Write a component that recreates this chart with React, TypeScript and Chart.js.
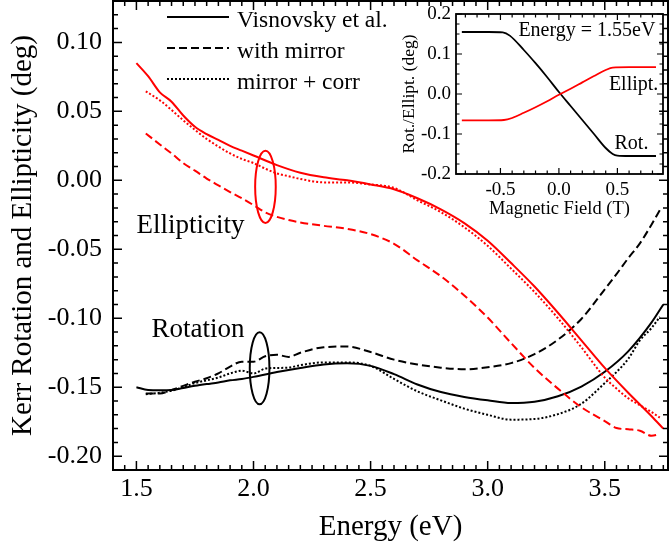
import React, { useEffect, useRef } from 'react';
import { Chart, registerables } from 'chart.js';

Chart.register(...registerables);

const FONT = "'Liberation Serif', 'Times New Roman', 'DejaVu Serif', serif";
const RED = '#ff0000';
const BLACK = '#000000';

// ---------- main chart tick labels ----------
const xTickLabels = ['1.5', '2.0', '2.5', '3.0', '3.5'];
const yTickLabels = ['-0.20', '-0.15', '-0.10', '-0.05', '0.00', '0.05', '0.10'];

// ---------- series labels ----------
const seriesLabels = ['Visnovsky et al.', 'with mirror', 'mirror + corr'];

// ---------- Visnovsky et al. (solid) ----------
const energyVisnovsky = [1.50, 1.55, 1.60, 1.65, 1.70, 1.75, 1.80, 1.85, 1.90, 1.95, 2.00, 2.10, 2.20, 2.30, 2.40, 2.50, 2.60, 2.70, 2.80, 2.90, 3.00, 3.10, 3.20, 3.30, 3.40, 3.50, 3.60, 3.70, 3.75];
const ellipVisnovsky = [0.085, 0.0755, 0.0638, 0.057, 0.047, 0.0388, 0.0335, 0.0293, 0.025, 0.0215, 0.018, 0.011, 0.0055, 0.0022, 0.0, -0.003, -0.0065, -0.013, -0.021, -0.031, -0.0438, -0.060, -0.077, -0.096, -0.116, -0.136, -0.154, -0.171, -0.180];
const rotVisnovsky = [-0.150, -0.152, -0.1522, -0.152, -0.1505, -0.149, -0.1477, -0.1465, -0.145, -0.144, -0.1425, -0.139, -0.136, -0.1335, -0.1327, -0.1345, -0.1405, -0.148, -0.1535, -0.157, -0.1595, -0.1615, -0.1605, -0.1565, -0.1495, -0.1388, -0.124, -0.103, -0.090];

// ---------- with mirror (dashed) & mirror + corr (dotted) ----------
const energyMirror = [1.54, 1.60, 1.65, 1.70, 1.75, 1.80, 1.85, 1.90, 1.95, 2.00, 2.05, 2.10, 2.15, 2.20, 2.30, 2.40, 2.50, 2.60, 2.70, 2.80, 2.90, 3.00, 3.10, 3.20, 3.30, 3.40, 3.50, 3.55, 3.60, 3.65, 3.70, 3.735];
const ellipMirror = [0.034, 0.026, 0.0195, 0.0125, 0.007, 0.0013, -0.0037, -0.0085, -0.013, -0.018, -0.0232, -0.0265, -0.0288, -0.0305, -0.033, -0.0352, -0.039, -0.046, -0.058, -0.0695, -0.0835, -0.0995, -0.118, -0.136, -0.151, -0.1645, -0.1745, -0.1795, -0.1805, -0.1815, -0.1852, -0.184];
const rotMirror = [-0.1545, -0.1545, -0.152, -0.149, -0.146, -0.1435, -0.140, -0.135, -0.1315, -0.1315, -0.1275, -0.1265, -0.128, -0.125, -0.121, -0.1205, -0.1245, -0.130, -0.1335, -0.1358, -0.137, -0.1355, -0.1325, -0.126, -0.1155, -0.1005, -0.079, -0.068, -0.0565, -0.0457, -0.032, -0.0217];
const ellipCorr = [0.0645, 0.058, 0.051, 0.0435, 0.0365, 0.030, 0.0245, 0.0195, 0.0155, 0.0125, 0.0085, 0.005, 0.003, 0.001, -0.0015, -0.0015, -0.003, -0.0055, -0.0145, -0.023, -0.034, -0.0475, -0.064, -0.081, -0.100, -0.121, -0.143, -0.151, -0.158, -0.163, -0.168, -0.172];
const rotCorr = [-0.155, -0.154, -0.1525, -0.150, -0.147, -0.145, -0.143, -0.140, -0.138, -0.140, -0.1365, -0.136, -0.1358, -0.134, -0.132, -0.132, -0.1345, -0.144, -0.153, -0.1595, -0.1655, -0.170, -0.1735, -0.173, -0.1695, -0.162, -0.147, -0.139, -0.1295, -0.116, -0.107, -0.099];

// ---------- inset: hysteresis at 1.55 eV ----------
const insetXTickLabels = ['-0.5', '0.0', '0.5'];
const insetYTickLabels = ['-0.2', '-0.1', '0.0', '0.1', '0.2'];
const fieldRot = [-0.83, -0.6, -0.48, -0.42, -0.3, -0.2, -0.1, 0.0, 0.1, 0.2, 0.3, 0.4, 0.46, 0.5, 0.6, 0.83];
const insetRot = [0.155, 0.155, 0.154, 0.146, 0.11, 0.077, 0.042, 0.005, -0.03, -0.065, -0.1, -0.135, -0.150, -0.154, -0.155, -0.155];
const fieldEllip = [-0.83, -0.6, -0.47, -0.4, -0.3, -0.2, -0.1, 0.0, 0.1, 0.2, 0.3, 0.4, 0.46, 0.6, 0.83];
const insetEllip = [-0.066, -0.066, -0.065, -0.06, -0.047, -0.033, -0.018, -0.002, 0.013, 0.029, 0.045, 0.06, 0.066, 0.067, 0.067];

const pts = (xs: number[], ys: number[]) => xs.map((x, i) => ({ x, y: ys[i] }));

// frame + inward ticks on all four sides
const frameTicksPlugin = {
  id: 'frameTicks',
  afterDraw(chart: any, _args: any, opts: any) {
    if (!opts || !opts.enabled) return;
    const { ctx, chartArea: a } = chart;
    const xs = chart.scales.x;
    const ys = chart.scales.y;
    ctx.save();
    ctx.strokeStyle = '#000';
    ctx.lineWidth = opts.tickWidth;
    ctx.beginPath();
    const each = (min: number, max: number, step: number, major: number, fn: (v: number, isMajor: boolean) => void) => {
      const s = Math.ceil(min / step - 1e-6);
      const e = Math.floor(max / step + 1e-6);
      for (let k = s; k <= e; k++) {
        const v = k * step;
        const r = v / major;
        fn(v, Math.abs(r - Math.round(r)) < 1e-6);
      }
    };
    each(xs.min, xs.max, opts.xMinor, opts.xMajor, (v, m) => {
      const len = m ? opts.majorLen : opts.minorLen;
      const px = xs.getPixelForValue(v);
      ctx.moveTo(px, a.bottom); ctx.lineTo(px, a.bottom - len);
      ctx.moveTo(px, a.top); ctx.lineTo(px, a.top + len);
    });
    each(ys.min, ys.max, opts.yMinor, opts.yMajor, (v, m) => {
      const len = m ? opts.majorLen : opts.minorLen;
      const py = ys.getPixelForValue(v);
      ctx.moveTo(a.left, py); ctx.lineTo(a.left + len, py);
      ctx.moveTo(a.right, py); ctx.lineTo(a.right - len, py);
    });
    ctx.stroke();
    ctx.lineWidth = opts.frameWidth;
    ctx.strokeRect(a.left, a.top, a.right - a.left, a.bottom - a.top);
    ctx.restore();
  },
};

// text + ellipse annotations in data coordinates, plus an in-plot legend
const annotatePlugin = {
  id: 'annotate',
  afterDatasetsDraw(chart: any, _args: any, opts: any) {
    if (!opts) return;
    const { ctx, chartArea: a } = chart;
    const xs = chart.scales.x;
    const ys = chart.scales.y;
    ctx.save();
    (opts.ellipses || []).forEach((el: any) => {
      const cx = xs.getPixelForValue(el.x);
      const cy = ys.getPixelForValue(el.y);
      const rx = Math.abs(xs.getPixelForValue(el.x + el.rx) - cx);
      const ry = Math.abs(ys.getPixelForValue(el.y + el.ry) - cy);
      ctx.beginPath();
      ctx.strokeStyle = el.color;
      ctx.lineWidth = el.width;
      ctx.setLineDash([]);
      ctx.ellipse(cx, cy, rx, ry, 0, 0, Math.PI * 2);
      ctx.stroke();
    });
    (opts.texts || []).forEach((t: any) => {
      ctx.font = `${t.size}px ${FONT}`;
      ctx.fillStyle = t.color || '#000';
      ctx.textAlign = t.align || 'left';
      ctx.textBaseline = 'alphabetic';
      ctx.fillText(t.text, xs.getPixelForValue(t.x), ys.getPixelForValue(t.y));
    });
    const lg = opts.legend;
    if (lg) {
      lg.datasets.forEach((di: number, row: number) => {
        const ds = chart.data.datasets[di];
        const y = a.top + lg.top + row * lg.rowGap;
        const x0 = a.left + lg.left;
        ctx.beginPath();
        ctx.strokeStyle = ds.borderColor;
        ctx.lineWidth = ds.borderWidth;
        ctx.setLineDash(ds.borderDash || []);
        ctx.moveTo(x0, y);
        ctx.lineTo(x0 + lg.lineLen, y);
        ctx.stroke();
        ctx.setLineDash([]);
        ctx.font = `${lg.size}px ${FONT}`;
        ctx.fillStyle = '#000';
        ctx.textAlign = 'left';
        ctx.textBaseline = 'alphabetic';
        ctx.fillText(ds.label, x0 + lg.lineLen + lg.gap, y + lg.baselineOffset);
      });
    }
    ctx.restore();
  },
};

const noPadX = (h: number) => (s: any) => { s.height = h; s.paddingLeft = 0; s.paddingRight = 0; };
const noPadY = (w: number) => (s: any) => { s.width = w; s.paddingTop = 0; s.paddingBottom = 0; };

const DASH = [8, 4];
const DOT = [2, 2];

function MainChart() {
  const ref = useRef<HTMLCanvasElement | null>(null);
  useEffect(() => {
    const mk = (label: string, xs: number[], ys: number[], color: string, dash: number[], w: number) => ({
      label,
      data: pts(xs, ys),
      borderColor: color,
      backgroundColor: color,
      borderWidth: w,
      borderDash: dash,
      pointRadius: 0,
      fill: false,
      cubicInterpolationMode: 'monotone' as const,
    });
    const chart = new Chart(ref.current as HTMLCanvasElement, {
      type: 'line',
      data: {
        datasets: [
          mk(seriesLabels[0] + ' (ellipticity)', energyVisnovsky, ellipVisnovsky, RED, [], 2),
          mk(seriesLabels[1] + ' (ellipticity)', energyMirror, ellipMirror, RED, DASH, 2),
          mk(seriesLabels[2] + ' (ellipticity)', energyMirror, ellipCorr, RED, DOT, 2),
          mk(seriesLabels[0], energyVisnovsky, rotVisnovsky, BLACK, [], 2),
          mk(seriesLabels[1], energyMirror, rotMirror, BLACK, DASH, 2),
          mk(seriesLabels[2], energyMirror, rotCorr, BLACK, DOT, 2),
        ],
      },
      options: {
        animation: false,
        responsive: false,
        maintainAspectRatio: false,
        layout: { padding: { top: 1, right: 2, left: 0, bottom: 0 } },
        plugins: {
          legend: { display: false },
          tooltip: { enabled: false },
          frameTicks: { enabled: true, xMinor: 0.05, xMajor: 0.5, yMinor: 0.01, yMajor: 0.05, majorLen: 9, minorLen: 5, tickWidth: 1.5, frameWidth: 2 },
          annotate: {
            ellipses: [
              { x: 2.051, y: -0.0047, rx: 0.044, ry: 0.0262, color: RED, width: 2 },
              { x: 2.026, y: -0.1362, rx: 0.042, ry: 0.0261, color: BLACK, width: 2 },
            ],
            texts: [
              { text: 'Ellipticity', x: 1.5, y: -0.0384, size: 27 },
              { text: 'Rotation', x: 1.564, y: -0.1138, size: 27 },
            ],
            legend: { datasets: [3, 4, 5], left: 54, top: 16, rowGap: 31, lineLen: 62, gap: 8, size: 23.5, baselineOffset: 9.5 },
          },
        } as any,
        scales: {
          x: {
            type: 'linear',
            min: 1.4,
            max: 3.77,
            afterFit: noPadX(82),
            afterBuildTicks: (s: any) => { s.ticks = xTickLabels.map((l) => ({ value: parseFloat(l) })); },
            ticks: {
              callback: (_v: any, i: number) => xTickLabels[i],
              font: { family: FONT, size: 26 },
              color: '#000',
              padding: 4,
              maxRotation: 0,
              autoSkip: false,
            },
            grid: { display: false, drawTicks: false },
            border: { display: false },
            title: {
              display: true,
              text: 'Energy (eV)',
              color: '#000',
              font: { family: FONT, size: 29, lineHeight: 1 },
              padding: { top: 0, bottom: 10.5 },
            },
          },
          y: {
            type: 'linear',
            min: -0.21,
            max: 0.13,
            afterFit: noPadY(113),
            afterBuildTicks: (s: any) => { s.ticks = yTickLabels.map((l) => ({ value: parseFloat(l) })); },
            ticks: {
              callback: (_v: any, i: number) => yTickLabels[i],
              font: { family: FONT, size: 26 },
              color: '#000',
              padding: 11,
              autoSkip: false,
            },
            grid: { display: false, drawTicks: false },
            border: { display: false },
            title: {
              display: true,
              text: 'Kerr Rotation and Ellipticity (deg)',
              color: '#000',
              font: { family: FONT, size: 29, lineHeight: 1 },
              padding: { top: 8.7, bottom: 0 },
            },
          },
        },
      },
      plugins: [frameTicksPlugin, annotatePlugin],
    });
    return () => chart.destroy();
  }, []);
  return <canvas ref={ref} width={670} height={552} style={{ position: 'absolute', left: 0, top: 0, width: 670, height: 552 }} />;
}

function InsetChart() {
  const ref = useRef<HTMLCanvasElement | null>(null);
  useEffect(() => {
    const chart = new Chart(ref.current as HTMLCanvasElement, {
      type: 'line',
      data: {
        datasets: [
          { label: 'Ellipt.', data: pts(fieldEllip, insetEllip), borderColor: RED, borderWidth: 1.8, pointRadius: 0, fill: false, cubicInterpolationMode: 'monotone' },
          { label: 'Rot.', data: pts(fieldRot, insetRot), borderColor: BLACK, borderWidth: 1.8, pointRadius: 0, fill: false, cubicInterpolationMode: 'monotone' },
        ],
      },
      options: {
        animation: false,
        responsive: false,
        maintainAspectRatio: false,
        layout: { padding: { top: 14, right: 7, left: 0, bottom: 0 } },
        plugins: {
          legend: { display: false },
          tooltip: { enabled: false },
          frameTicks: { enabled: true, xMinor: 0.1, xMajor: 0.5, yMinor: 0.025, yMajor: 0.1, majorLen: 6, minorLen: 3.5, tickWidth: 1.2, frameWidth: 1.8 },
          annotate: {
            texts: [
              { text: 'Energy = 1.55eV', x: 0.825, y: 0.145, size: 20, align: 'right' },
              { text: 'Ellipt.', x: 0.85, y: 0.01, size: 20, align: 'right' },
              { text: 'Rot.', x: 0.765, y: -0.1375, size: 20, align: 'right' },
            ],
          },
        } as any,
        scales: {
          x: {
            type: 'linear',
            min: -0.88,
            max: 0.89,
            afterFit: noPadX(46),
            afterBuildTicks: (s: any) => { s.ticks = insetXTickLabels.map((l) => ({ value: parseFloat(l) })); },
            ticks: {
              callback: (_v: any, i: number) => insetXTickLabels[i],
              font: { family: FONT, size: 19 },
              color: '#000',
              padding: 4.5,
              maxRotation: 0,
              autoSkip: false,
            },
            grid: { display: false, drawTicks: false },
            border: { display: false },
            title: {
              display: true,
              text: 'Magnetic Field (T)',
              color: '#000',
              font: { family: FONT, size: 18.5, lineHeight: 1 },
              padding: { top: 0, bottom: 2 },
            },
          },
          y: {
            type: 'linear',
            min: -0.2,
            max: 0.2,
            afterFit: noPadY(76),
            afterBuildTicks: (s: any) => { s.ticks = insetYTickLabels.map((l) => ({ value: parseFloat(l) })); },
            ticks: {
              callback: (_v: any, i: number) => insetYTickLabels[i],
              font: { family: FONT, size: 19 },
              color: '#000',
              padding: 5,
              autoSkip: false,
            },
            grid: { display: false, drawTicks: false },
            border: { display: false },
            title: {
              display: true,
              text: 'Rot./Ellipt. (deg)',
              color: '#000',
              font: { family: FONT, size: 17.5, lineHeight: 1 },
              padding: { top: 20.3, bottom: 0 },
            },
          },
        },
      },
      plugins: [frameTicksPlugin, annotatePlugin],
    });
    return () => chart.destroy();
  }, []);
  return <canvas ref={ref} width={290} height={220} style={{ position: 'absolute', left: 380, top: 0, width: 290, height: 220 }} />;
}

export default function App() {
  return (
    <div style={{ position: 'absolute', left: 0, top: 0, width: 670, height: 552, background: '#fff', overflow: 'hidden' }}>
      <MainChart />
      <InsetChart />
    </div>
  );
}
